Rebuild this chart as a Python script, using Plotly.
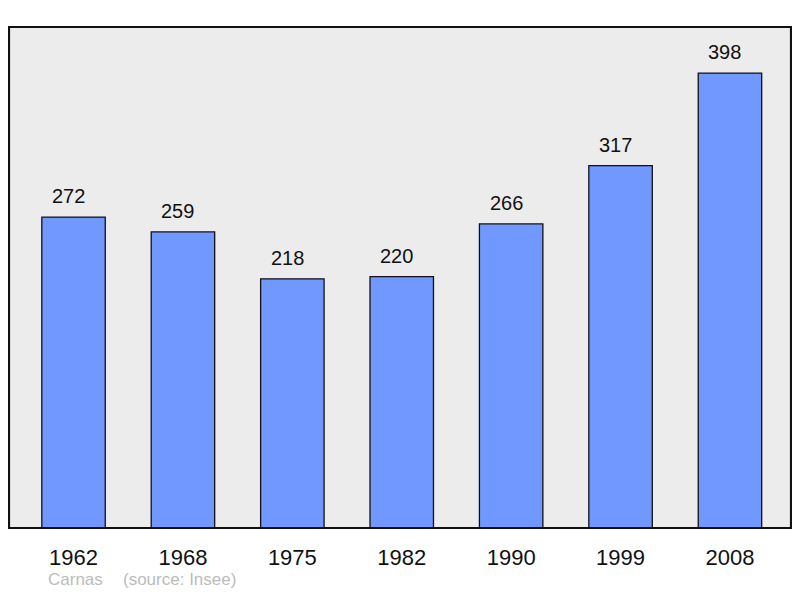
import plotly.graph_objects as go

years = ["1962", "1968", "1975", "1982", "1990", "1999", "2008"]
population = [272, 259, 218, 220, 266, 317, 398]
commune = "Carnas"
source = "(source: Insee)"

positions = list(range(len(years)))

fig = go.Figure()
fig.add_trace(go.Bar(
    x=positions, y=population, width=0.58,
    marker=dict(color="#7098ff", line=dict(color="#111111", width=1.3)),
    hoverinfo="skip",
))

for p, v in zip(positions, population):
    fig.add_annotation(x=p, y=v, text=str(v), showarrow=False,
                       yanchor="bottom", yshift=8, xshift=-5,
                       font=dict(family="Liberation Sans, Arial", size=20, color="#111111"))

fig.add_annotation(xref="paper", yref="paper", x=(47 - 9) / 782, y=-62 / 501,
                   xanchor="left", yanchor="bottom", borderpad=0, text=commune, showarrow=False,
                   font=dict(family="Liberation Sans, Arial", size=17, color="#bbbbbb"))
fig.add_annotation(xref="paper", yref="paper", x=(122 - 9) / 782, y=-62 / 501,
                   xanchor="left", yanchor="bottom", borderpad=0, text=source, showarrow=False,
                   font=dict(family="Liberation Sans, Arial", size=17, color="#bbbbbb"))

fig.add_shape(type="rect", xref="paper", yref="paper", x0=0, y0=0, x1=1, y1=1,
              line=dict(color="#111111", width=2.2), layer="above")

# page body has an 8px margin; figure is sized to sit exactly inside the window
fig.update_layout(
    width=784, height=582,
    margin=dict(l=1, r=1, t=19, b=62, autoexpand=False),
    paper_bgcolor="white", plot_bgcolor="#ececec",
    showlegend=False,
    xaxis=dict(range=[-0.59, 6.558], tickvals=positions, ticktext=years,
               showgrid=False, zeroline=False, showline=False, ticks="",
               ticklabelstandoff=14,
               tickfont=dict(family="Liberation Sans, Arial", size=22, color="#111111"),
               fixedrange=True),
    yaxis=dict(range=[0, 438.3], showgrid=False, zeroline=False, showline=False,
               showticklabels=False, ticks="", fixedrange=True),
)

fig.write_html("out.html")
